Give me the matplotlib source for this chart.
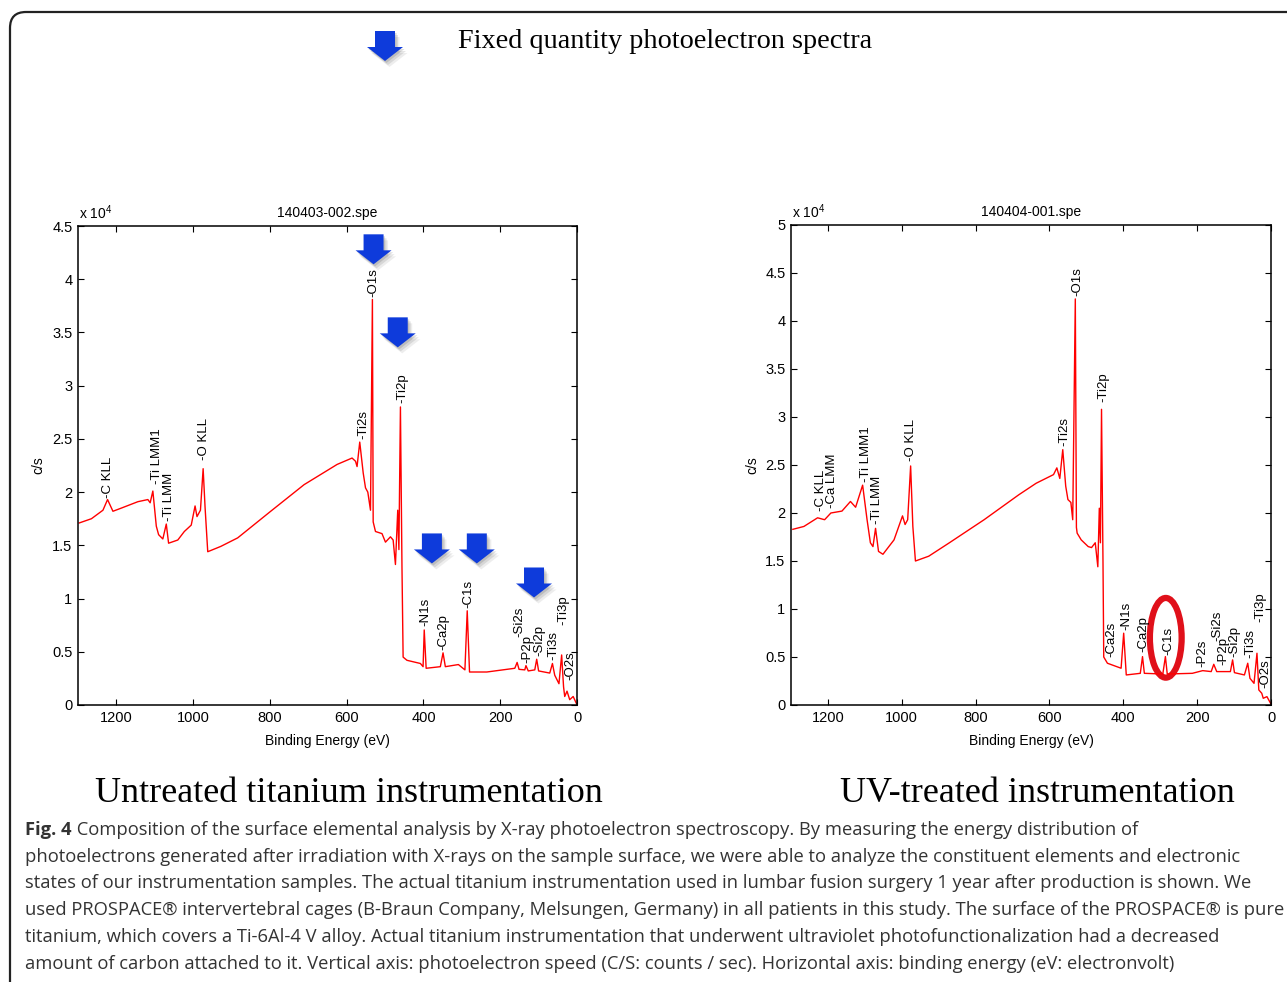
import matplotlib
matplotlib.use('Agg')
import matplotlib.pyplot as plt
import matplotlib.transforms as mtransforms
from matplotlib.patches import Polygon, Ellipse, FancyBboxPatch

plt.rcParams['font.family'] = ['Liberation Sans', 'DejaVu Sans']
plt.rcParams['mathtext.fontset'] = 'custom'
plt.rcParams['mathtext.rm'] = 'Liberation Sans'

# ---- untreated sample, 140403-002.spe  (binding energy eV, counts in 1e4 c/s)
untreated_ev = [1297, 1265, 1235, 1223, 1209, 1187, 1144, 1118, 1112, 1105, 1096, 1090,
                1079, 1070, 1064, 1040, 1023, 1005, 995, 990, 981, 974, 969, 962, 928,
                884, 798, 711, 625, 586, 577, 573, 566, 557, 551, 545, 538, 533, 531,
                525, 508, 499, 486, 479, 473, 467, 464, 460, 456, 453, 443, 408, 401,
                398, 393, 356, 349, 343, 309, 292, 286, 280, 235, 162, 156, 151, 136,
                133, 127, 110, 105, 100, 71, 64, 58, 47, 40, 35, 32, 26, 19, 10, 1]
untreated_cs = [1.71, 1.75, 1.83, 1.93, 1.82, 1.85, 1.91, 1.93, 1.90, 2.01, 1.68, 1.60,
                1.56, 1.70, 1.52, 1.55, 1.63, 1.69, 1.87, 1.77, 1.83, 2.22, 1.86, 1.44, 1.49,
                1.57, 1.82, 2.07, 2.26, 2.32, 2.29, 2.24, 2.47, 2.18, 2.04, 2.00, 1.83, 3.81, 1.72,
                1.63, 1.61, 1.53, 1.58, 1.55, 1.32, 1.83, 1.46, 2.80, 1.30, 0.45, 0.42, 0.39, 0.36,
                0.705, 0.345, 0.36, 0.49, 0.36, 0.38, 0.33, 0.885, 0.31, 0.31, 0.345, 0.40, 0.335, 0.33,
                0.37, 0.32, 0.33, 0.43, 0.32, 0.30, 0.39, 0.28, 0.20, 0.47, 0.17, 0.08, 0.13, 0.05, 0.08, 0.01]

# ---- UV-treated sample, 140404-001.spe
uv_ev = [1295, 1265, 1228, 1209, 1192, 1162, 1139, 1125, 1106, 1094, 1085, 1078, 1071,
         1063, 1051, 1021, 998, 991, 984, 976, 970, 963, 927, 871, 777, 683, 636, 589,
         580, 572, 564, 556, 550, 542, 537, 530, 527, 525, 514, 495, 486, 476, 469, 465,
         462, 459, 455, 453, 443, 406, 399, 392, 354, 348, 343, 293, 286, 281, 213, 185,
         162, 155, 147, 110, 104, 99, 72, 63, 57, 46, 38, 33, 25, 21, 11, 0]
uv_cs = [1.83, 1.86, 1.95, 1.93, 2.00, 2.02, 2.12, 2.06, 2.29, 1.93, 1.69, 1.65, 1.84,
         1.60, 1.57, 1.72, 1.97, 1.88, 1.93, 2.49, 1.86, 1.50, 1.55, 1.69, 1.93, 2.19, 2.31, 2.40,
         2.47, 2.36, 2.66, 2.28, 2.14, 2.11, 1.93, 4.23, 1.85, 1.79, 1.72, 1.65, 1.64, 1.69, 1.44, 2.05,
         1.69, 3.08, 1.48, 0.50, 0.435, 0.383, 0.748, 0.313, 0.330, 0.504, 0.330, 0.323, 0.504, 0.323, 0.330, 0.358,
         0.348, 0.424, 0.348, 0.348, 0.470, 0.337, 0.313, 0.435, 0.278, 0.226, 0.539, 0.157, 0.122, 0.07, 0.087, 0.01]

# ---- peak labels: name, energy, height of label foot
untreated_peaks = ['C KLL', 'Ti LMM1', 'Ti LMM', 'O KLL', 'Ti2s', 'O1s', 'Ti2p', 'N1s', 'Ca2p',
                   'C1s', 'Si2s', 'P2p', 'Si2p', 'Ti3s', 'Ti3p', 'O2s']
untreated_peak_ev = [1222, 1094, 1064, 973, 557, 530, 456, 395, 348, 283, 151, 130, 97, 61, 36, 17]
untreated_peak_y = [1.94, 2.08, 1.73, 2.30, 2.50, 3.83, 2.84, 0.74, 0.52, 0.91, 0.64, 0.39, 0.46, 0.42, 0.75, 0.235]

uv_peaks = ['C KLL', 'Ca LMM', 'Ti LMM1', 'Ti LMM', 'O KLL', 'Ti2s', 'O1s', 'Ti2p', 'Ca2s', 'N1s',
            'Ca2p', 'C1s', 'P2s', 'Si2s', 'P2p', 'Si2p', 'Ti3s', 'Ti3p', 'O2s']
uv_peak_ev = [1218, 1188, 1098, 1066, 974, 559, 525, 453, 431, 392, 345, 277, 185, 146, 129, 99, 57, 30, 14]
uv_peak_y = [2.02, 2.05, 2.32, 1.89, 2.54, 2.70, 4.26, 3.16, 0.50, 0.78, 0.55, 0.52, 0.40, 0.67, 0.42,
             0.50, 0.49, 0.86, 0.18]

# blue arrows on the untreated spectrum (tip position: eV, 1e4 c/s)
arrow_ev = [530, 467, 378, 261, 112]
arrow_y = [4.14, 3.36, 1.33, 1.33, 1.01]

x_ticks = [0, 200, 400, 600, 800, 1000, 1200]
x_ticklabels = ['0', '200', '400', '600', '800', '1000', '1200']
y_ticks_left = [0, 0.5, 1, 1.5, 2, 2.5, 3, 3.5, 4, 4.5]
y_ticks_right = [0, 0.5, 1, 1.5, 2, 2.5, 3, 3.5, 4, 4.5, 5]

caption = [
    ' Composition of the surface elemental analysis by X-ray photoelectron spectroscopy. By measuring the energy distribution of',
    'photoelectrons generated after irradiation with X-rays on the sample surface, we were able to analyze the constituent elements and electronic',
    'states of our instrumentation samples. The actual titanium instrumentation used in lumbar fusion surgery 1 year after production is shown. We',
    'used PROSPACE® intervertebral cages (B-Braun Company, Melsungen, Germany) in all patients in this study. The surface of the PROSPACE® is pure',
    'titanium, which covers a Ti-6Al-4 V alloy. Actual titanium instrumentation that underwent ultraviolet photofunctionalization had a decreased',
    'amount of carbon attached to it. Vertical axis: photoelectron speed (C/S: counts / sec). Horizontal axis: binding energy (eV: electronvolt)',
]

W, H = 1287, 982
fig = plt.figure(figsize=(W / 100, H / 100), dpi=100)

# rounded frame
frame = FancyBboxPatch((10, -30), 1400, H - 12 + 30, boxstyle='round,pad=0,rounding_size=16',
                       transform=mtransforms.IdentityTransform(), fill=False,
                       ec='#222222', lw=1.6)
fig.patches.append(frame)

ARROW = [(0, 0), (-0.18, 0.14), (-0.10, 0.14), (-0.10, 0.30), (0.10, 0.30), (0.10, 0.14), (0.18, 0.14)]


def blue_arrow(x, y, trans):
    for k, a in [(3, 0.10), (2, 0.15), (1, 0.2)]:
        off = mtransforms.ScaledTranslation(x, y, trans)
        sh = [(vx + 0.015 * k, vy - 0.02 * k) for vx, vy in ARROW]
        fig.patches.append(Polygon(sh, closed=True, fc='#555555', ec='none', alpha=a,
                                   transform=fig.dpi_scale_trans + off))
    off = mtransforms.ScaledTranslation(x, y, trans)
    fig.patches.append(Polygon(ARROW, closed=True, fc='#0E3BDB', ec='none',
                               transform=fig.dpi_scale_trans + off))


def spectrum_axes(rect, ev, cs, yticks, title, names, pev, py):
    ax = fig.add_axes(rect)
    ax.plot(ev, cs, color='#FF0000', lw=1.0)
    ax.set_xlim(1300, 0)
    ax.set_ylim(0, yticks[-1])
    ax.set_xticks(x_ticks)
    ax.set_xticklabels(x_ticklabels)
    ax.set_yticks(yticks)
    ax.set_yticklabels(['%g' % t for t in yticks])
    ax.tick_params(direction='in', top=True, right=True, length=4, width=0.8,
                   labelsize=10.5, pad=4)
    for s in ax.spines.values():
        s.set_linewidth(1.1)
    ax.text(0.5, 1.028, title, transform=ax.transAxes, ha='center', va='center', fontsize=10)
    ax.text(0.002, 1.027, r'x 10$^{4}$', transform=ax.transAxes, ha='left', va='center', fontsize=10)
    ax.text(0.5, -0.075, 'Binding Energy (eV)', transform=ax.transAxes, ha='center',
            va='center', fontsize=10)
    ax.text(-0.08, 0.5, 'c/s', transform=ax.transAxes, rotation=90, ha='center',
            va='center', fontsize=10)
    for n, x, y in zip(names, pev, py):
        ax.text(x, y, '-' + n, rotation=90, ha='center', va='bottom', fontsize=9.5)
    return ax


ax1 = spectrum_axes([78 / W, 1 - 705 / H, 499 / W, 479 / H], untreated_ev, untreated_cs,
                    y_ticks_left, '140403-002.spe', untreated_peaks, untreated_peak_ev, untreated_peak_y)
ax2 = spectrum_axes([791 / W, 1 - 705 / H, 480 / W, 480 / H], uv_ev, uv_cs,
                    y_ticks_right, '140404-001.spe', uv_peaks, uv_peak_ev, uv_peak_y)

for x, y in zip(arrow_ev, arrow_y):
    blue_arrow(x, y, ax1.transData)
blue_arrow(385 / W, 1 - 61 / H, fig.transFigure)

# red ring around C1s of the UV-treated sample
ax2.add_patch(Ellipse((285, 0.70), width=86, height=0.83, fill=False, ec='#E0101A', lw=4.5,
                      clip_on=False))

fig.text(458 / W, 1 - 42 / H, 'Fixed quantity photoelectron spectra', family='Liberation Serif',
         fontsize=20.3, ha='left', va='center')
fig.text(95 / W, 1 - 794 / H, 'Untreated titanium instrumentation', family='Liberation Serif',
         fontsize=26, ha='left', va='center')
fig.text(840 / W, 1 - 794 / H, 'UV-treated instrumentation', family='Liberation Serif',
         fontsize=26, ha='left', va='center')

# caption
cap_color = '#333333'
cap_size = 13.2
line_y = [830, 857, 883, 910, 937, 964]
t0 = fig.text(25 / W, 1 - line_y[0] / H, 'Fig. 4', family='Open Sans', weight='bold',
              fontsize=cap_size, color=cap_color, ha='left', va='center')
r = fig.canvas.get_renderer()
x_after = t0.get_window_extent(r).x1 / W
fig.text(x_after, 1 - line_y[0] / H, caption[0], family='Open Sans', fontsize=cap_size,
         color=cap_color, ha='left', va='center')
for line, y in zip(caption[1:], line_y[1:]):
    fig.text(25 / W, 1 - y / H, line, family='Open Sans', fontsize=cap_size,
             color=cap_color, ha='left', va='center')

fig.savefig('out.png', dpi=100)
